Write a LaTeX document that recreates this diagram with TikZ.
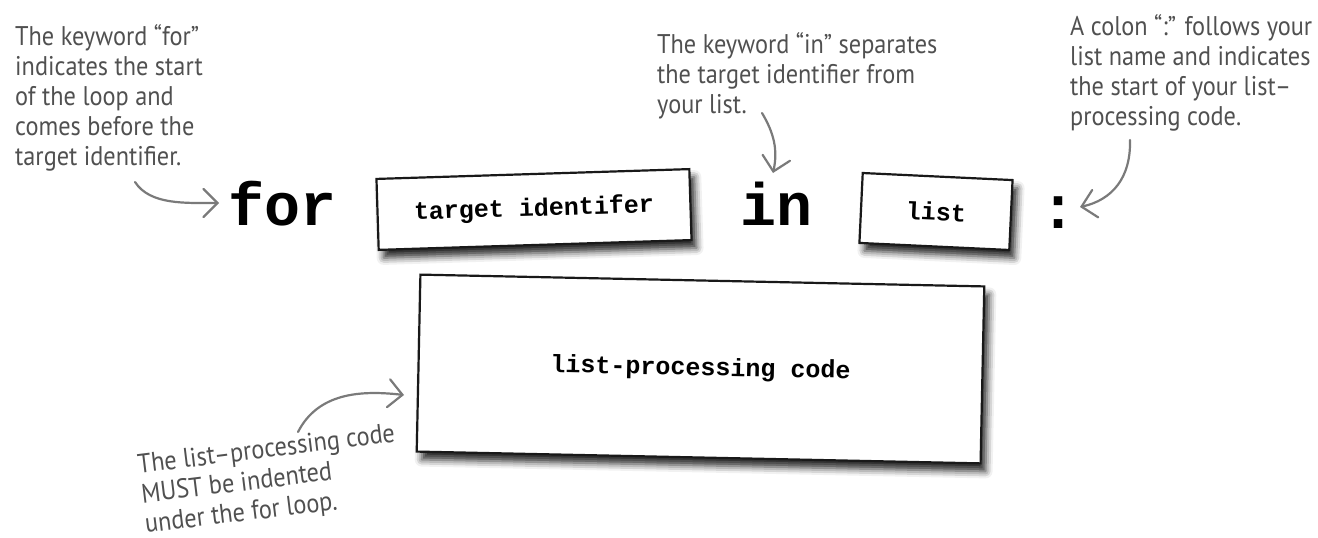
\documentclass[tikz,border=0pt]{standalone}
\usepackage{fontspec}
\newfontfamily\handfont[FakeStretch=0.9]{PT Sans}
\setmonofont{Liberation Mono}
\usetikzlibrary{arrows.meta,shadows.blur}
\definecolor{notegray}{HTML}{505050}
\definecolor{arrowgray}{HTML}{7A7A7A}
\begin{document}
\begin{tikzpicture}[x=1pt,y=-1pt,
  note/.style={font=\handfont\fontsize{27}{30}\selectfont, text=notegray, align=left, inner sep=0pt},
  kw/.style={font=\ttfamily\bfseries\fontsize{60}{60}\selectfont, inner sep=0pt},
  codebox/.style={draw=black!90, line width=2.2pt, fill=white, inner sep=0pt,
    font=\ttfamily\bfseries\fontsize{25}{25}\selectfont,
    blur shadow={shadow xshift=5pt, shadow yshift=-8pt, shadow blur radius=7pt, shadow opacity=85}},
  callout/.style={draw=arrowgray, line width=2.2pt, line cap=round, line join=round,
    -{Straight Barb[length=14pt,width=28pt,line cap=round]}}
]
\useasboundingbox (0,0) rectangle (1318,538);

% annotations (base anchor = baseline of the last line)
\node[note, anchor=base west] (nfor) at (15,165) {The keyword “for”\\indicates the start\\of the loop and\\comes before the\\target identifier.};
\node[note, anchor=base west] (nin) at (657,113) {The keyword “in” separates\\the target identifier from\\your list.};
\node[note, anchor=base west] (ncolon) at (1070,125) {A colon “:” follows your\\list name and indicates\\the start of your list–\\processing code.};
\node[note, anchor=base west, rotate=7] (nbody) at (146,533) {The list–processing code\\MUST be indented\\under the for loop.};

% keywords
\node[kw, anchor=base west] (kwfor) at (228,225) {for};
\node[kw, anchor=base west] (kwin) at (740,225) {in};
\node[kw, anchor=base] (kwcolon) at (1058,228) {:};

% boxes
\node[codebox, minimum width=313pt, minimum height=71pt, rotate=1.8] (target) at (534,209.5) {target identifer};
\node[codebox, minimum width=150pt, minimum height=70pt, rotate=-2.7] (list) at (936,211.5) {list};
\node[codebox, minimum width=564pt, minimum height=177pt, rotate=-1.2] (body) at (700.5,369) {list-processing code};

% connectors
\coordinate (sfor) at (135,182);
\coordinate (tfor) at (219,203);
\coordinate (sin) at (762,113);
\coordinate (tin) at (773,173);
\coordinate (scolon) at (1130,140);
\coordinate (tcolon) at (1080,207);
\coordinate (sbody) at (298,432);
\coordinate (tbody) at (404,395);

\draw[callout] (sfor) .. controls (150,205) and (185,203) .. (tfor);
\draw[callout] (sin) .. controls (774,133) and (778,150) .. (tin);
\draw[callout] (scolon) .. controls (1131,178) and (1112,200) .. (tcolon);
\draw[callout] (sbody) .. controls (318,393) and (360,390) .. (tbody);
\end{tikzpicture}
\end{document}
